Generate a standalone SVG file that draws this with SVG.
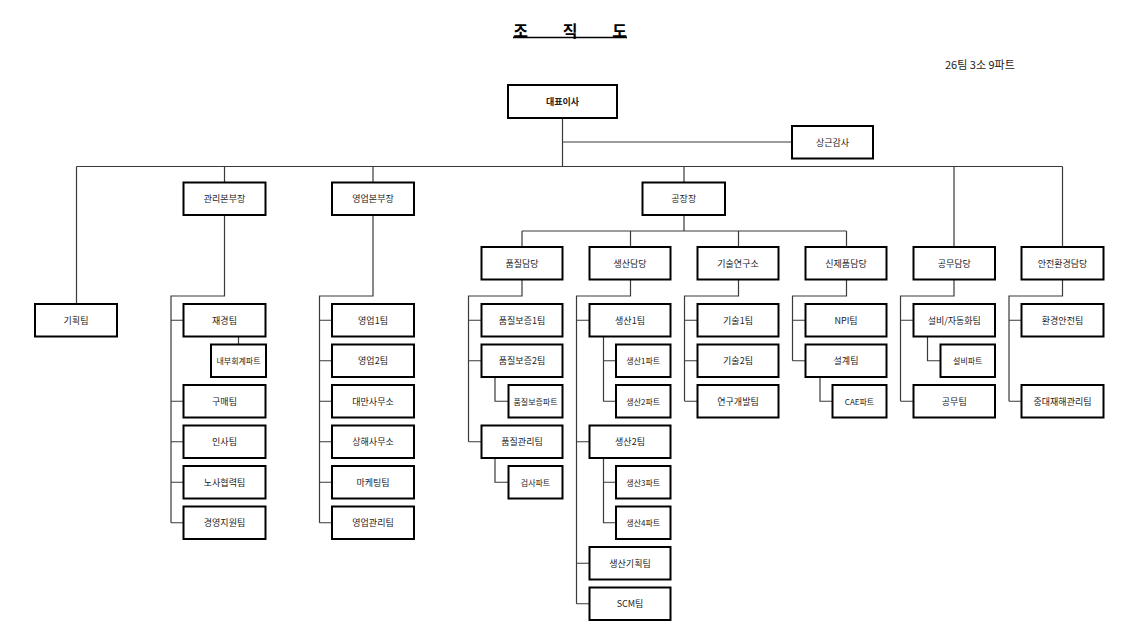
<svg xmlns="http://www.w3.org/2000/svg" width="1139" height="643" viewBox="0 0 1139 643">
<style>
.bg{fill:#fff}
.box{fill:#fff;stroke:#000;stroke-width:2}
.ln{fill:none;stroke:#3a3a3a;stroke-width:1.2}
.t{font-family:"Noto Sans CJK KR","Noto Sans",sans-serif;font-size:9px;fill:#222;text-anchor:middle;dominant-baseline:central}
.s{font-size:8px}
.b{font-weight:bold}
.title{font-family:"Noto Sans CJK KR",sans-serif;font-size:16px;font-weight:bold;fill:#000;text-anchor:middle;dominant-baseline:central}
.note{font-family:"Noto Sans CJK KR",sans-serif;font-size:11px;fill:#222;dominant-baseline:central}
</style>
<rect class="bg" x="0" y="0" width="1139" height="643"/>
<g id="title">
<text class="title" x="520.5" y="29.5">조</text>
<text class="title" x="570" y="29.5">직</text>
<text class="title" x="619.5" y="29.5">도</text>
<line x1="513" y1="37.5" x2="627" y2="37.5" stroke="#000" stroke-width="1.6"/>
</g>
<text id="summary" class="note" x="945" y="64">26팀 3소 9파트</text>
<g id="connectors">
<path class="ln" d="M562.5 118V166.5M562.5 142H792M76.5 166.5H1062.5M76.5 166.5V304M224.5 166.5V182.5M373 166.5V182.5M684 166.5V182.5M954 166.5V247M1062.5 166.5V247"/>
<path class="ln" d="M684 215V231M522 231H846.5M522 231V247M630.5 231V247M738.5 231V247M846.5 231V247"/>
<path class="ln" d="M224.5 215V296H171V522.75M171 320.25H183.5M171 401.25H183.5M171 441.75H183.5M171 482.25H183.5M171 522.75H183.5M238.5 336.5V344.5"/>
<path class="ln" d="M373 215V296H319.5V522.75M319.5 320.25H332M319.5 360.75H332M319.5 401.25H332M319.5 441.75H332M319.5 482.25H332M319.5 522.75H332"/>
<path class="ln" d="M522 279.5V296H468.5V441.75M468.5 320.25H481.5M468.5 360.75H481.5M468.5 441.75H481.5M495 377V401.25H508.5M495 458V482.25H508.5"/>
<path class="ln" d="M630.5 279.5V296H576.5V603.75M576.5 320.25H589.5M576.5 441.75H589.5M576.5 563.25H589.5M576.5 603.75H589.5M603.5 336.5V401.25H616M603.5 360.75H616M603.5 458V522.75H616M603.5 482.25H616"/>
<path class="ln" d="M738.5 279.5V296H684.5V401.25M684.5 320.25H697.5M684.5 360.75H697.5M684.5 401.25H697.5"/>
<path class="ln" d="M846.5 279.5V296H792.5V360.75M792.5 320.25H805.5M792.5 360.75H805.5M820 377V401.25H832.5"/>
<path class="ln" d="M954 279.5V296H900.5V401.25M900.5 320.25H913.5M900.5 401.25H913.5M927.5 336.5V360.75H940.5"/>
<path class="ln" d="M1062.5 279.5V296H1009V401.25M1009 320.25H1021.5M1009 401.25H1021.5"/>
</g>
<g id="n-ceo"><rect class="box" x="508" y="85" width="109" height="33"/><text class="t b" x="562.5" y="101.5">대표이사</text></g>
<g id="n-audit"><rect class="box" x="792" y="126" width="81" height="32.5"/><text class="t" x="832.5" y="142.25">상근감사</text></g>
<g id="n-plan"><rect class="box" x="35" y="304" width="82" height="32.5"/><text class="t" x="76" y="320.25">기획팀</text></g>
<g id="n-mgmt"><rect class="box" x="183.5" y="182.5" width="82" height="32.5"/><text class="t" x="224.5" y="198.75">관리본부장</text></g>
<g id="n-sales"><rect class="box" x="332" y="182.5" width="82" height="32.5"/><text class="t" x="373" y="198.75">영업본부장</text></g>
<g id="n-plant"><rect class="box" x="642.5" y="182.5" width="82.5" height="32.5"/><text class="t" x="683.75" y="198.75">공장장</text></g>
<g id="n-qa"><rect class="box" x="481.5" y="247" width="81" height="32.5"/><text class="t" x="522" y="263.25">품질담당</text></g>
<g id="n-prod"><rect class="box" x="589.5" y="247" width="81" height="32.5"/><text class="t" x="630" y="263.25">생산담당</text></g>
<g id="n-rnd"><rect class="box" x="697.5" y="247" width="81" height="32.5"/><text class="t" x="738" y="263.25">기술연구소</text></g>
<g id="n-newp"><rect class="box" x="805.5" y="247" width="81" height="32.5"/><text class="t" x="846" y="263.25">신제품담당</text></g>
<g id="n-works"><rect class="box" x="913.5" y="247" width="81.5" height="32.5"/><text class="t" x="954.25" y="263.25">공무담당</text></g>
<g id="n-safety"><rect class="box" x="1021.5" y="247" width="82" height="32.5"/><text class="t" x="1062.5" y="263.25">안전환경담당</text></g>
<g id="n-fin"><rect class="box" x="183.5" y="304" width="82" height="32.5"/><text class="t" x="224.5" y="320.25">재경팀</text></g>
<g id="n-audit-part"><rect class="box" x="211" y="344.5" width="55" height="32.5"/><text class="t s" x="238.5" y="360.75">내부회계파트</text></g>
<g id="n-buy"><rect class="box" x="183.5" y="385" width="82" height="32.5"/><text class="t" x="224.5" y="401.25">구매팀</text></g>
<g id="n-hr"><rect class="box" x="183.5" y="425.5" width="82" height="32.5"/><text class="t" x="224.5" y="441.75">인사팀</text></g>
<g id="n-labor"><rect class="box" x="183.5" y="466" width="82" height="32.5"/><text class="t" x="224.5" y="482.25">노사협력팀</text></g>
<g id="n-support"><rect class="box" x="183.5" y="506.5" width="82" height="32.5"/><text class="t" x="224.5" y="522.75">경영지원팀</text></g>
<g id="n-s1"><rect class="box" x="332" y="304" width="82" height="32.5"/><text class="t" x="373" y="320.25">영업1팀</text></g>
<g id="n-s2"><rect class="box" x="332" y="344.5" width="82" height="32.5"/><text class="t" x="373" y="360.75">영업2팀</text></g>
<g id="n-tw"><rect class="box" x="332" y="385" width="82" height="32.5"/><text class="t" x="373" y="401.25">대만사무소</text></g>
<g id="n-sh"><rect class="box" x="332" y="425.5" width="82" height="32.5"/><text class="t" x="373" y="441.75">상해사무소</text></g>
<g id="n-mkt"><rect class="box" x="332" y="466" width="82" height="32.5"/><text class="t" x="373" y="482.25">마케팅팀</text></g>
<g id="n-sm"><rect class="box" x="332" y="506.5" width="82" height="32.5"/><text class="t" x="373" y="522.75">영업관리팀</text></g>
<g id="n-qa1"><rect class="box" x="481.5" y="304" width="81" height="32.5"/><text class="t" x="522" y="320.25">품질보증1팀</text></g>
<g id="n-qa2"><rect class="box" x="481.5" y="344.5" width="81" height="32.5"/><text class="t" x="522" y="360.75">품질보증2팀</text></g>
<g id="n-qap"><rect class="box" x="508.5" y="385" width="54" height="32.5"/><text class="t s" x="535.5" y="401.25">품질보증파트</text></g>
<g id="n-qc"><rect class="box" x="481.5" y="425.5" width="81" height="32.5"/><text class="t" x="522" y="441.75">품질관리팀</text></g>
<g id="n-insp"><rect class="box" x="508.5" y="466" width="54" height="32.5"/><text class="t s" x="535.5" y="482.25">검사파트</text></g>
<g id="n-p1"><rect class="box" x="589.5" y="304" width="81" height="32.5"/><text class="t" x="630" y="320.25">생산1팀</text></g>
<g id="n-p1p"><rect class="box" x="616" y="344.5" width="54.5" height="32.5"/><text class="t s" x="643.25" y="360.75">생산1파트</text></g>
<g id="n-p2p"><rect class="box" x="616" y="385" width="54.5" height="32.5"/><text class="t s" x="643.25" y="401.25">생산2파트</text></g>
<g id="n-p2"><rect class="box" x="589.5" y="425.5" width="81" height="32.5"/><text class="t" x="630" y="441.75">생산2팀</text></g>
<g id="n-p3p"><rect class="box" x="616" y="466" width="54.5" height="32.5"/><text class="t s" x="643.25" y="482.25">생산3파트</text></g>
<g id="n-p4p"><rect class="box" x="616" y="506.5" width="54.5" height="32.5"/><text class="t s" x="643.25" y="522.75">생산4파트</text></g>
<g id="n-pplan"><rect class="box" x="589.5" y="547" width="81" height="32.5"/><text class="t" x="630" y="563.25">생산기획팀</text></g>
<g id="n-scm"><rect class="box" x="589.5" y="587.5" width="81" height="32.5"/><text class="t" x="630" y="603.75">SCM팀</text></g>
<g id="n-t1"><rect class="box" x="697.5" y="304" width="81" height="32.5"/><text class="t" x="738" y="320.25">기술1팀</text></g>
<g id="n-t2"><rect class="box" x="697.5" y="344.5" width="81" height="32.5"/><text class="t" x="738" y="360.75">기술2팀</text></g>
<g id="n-rd"><rect class="box" x="697.5" y="385" width="81" height="32.5"/><text class="t" x="738" y="401.25">연구개발팀</text></g>
<g id="n-npi"><rect class="box" x="805.5" y="304" width="81" height="32.5"/><text class="t" x="846" y="320.25">NPI팀</text></g>
<g id="n-design"><rect class="box" x="805.5" y="344.5" width="81" height="32.5"/><text class="t" x="846" y="360.75">설계팀</text></g>
<g id="n-cae"><rect class="box" x="832.5" y="385" width="54" height="32.5"/><text class="t s" x="859.5" y="401.25">CAE파트</text></g>
<g id="n-fac"><rect class="box" x="913.5" y="304" width="81.5" height="32.5"/><text class="t" x="954.25" y="320.25">설비/자동화팀</text></g>
<g id="n-facp"><rect class="box" x="940.5" y="344.5" width="54.5" height="32.5"/><text class="t s" x="967.75" y="360.75">설비파트</text></g>
<g id="n-wk"><rect class="box" x="913.5" y="385" width="81.5" height="32.5"/><text class="t" x="954.25" y="401.25">공무팀</text></g>
<g id="n-env"><rect class="box" x="1021.5" y="304" width="82" height="32.5"/><text class="t" x="1062.5" y="320.25">환경안전팀</text></g>
<g id="n-sev"><rect class="box" x="1021.5" y="385" width="82" height="32.5"/><text class="t" x="1062.5" y="401.25">중대재해관리팀</text></g>
</svg>
